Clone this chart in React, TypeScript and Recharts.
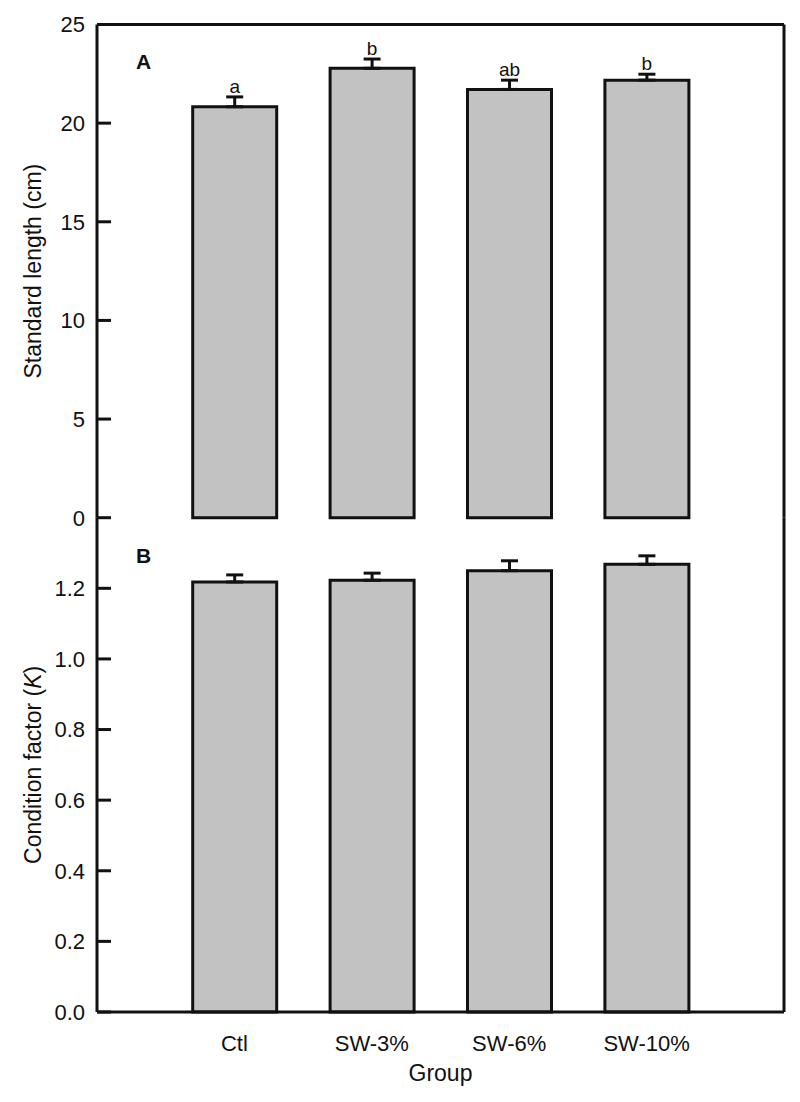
import { Bar, BarChart, CartesianGrid, ErrorBar, LabelList, XAxis, YAxis } from "recharts";

const groups = ["Ctl", "SW-3%", "SW-6%", "SW-10%"];
const lengthMean = [20.83, 22.78, 21.71, 22.18];
const lengthErr = [0.5, 0.47, 0.47, 0.3];
const lengthLetters = ["a", "b", "ab", "b"];
const kMean = [1.218, 1.223, 1.25, 1.268];
const kErr = [0.02, 0.02, 0.028, 0.024];
const lengthTicks = [0, 5, 10, 15, 20, 25];
const kTicks = [0, 0.2, 0.4, 0.6, 0.8, 1.0, 1.2];

const FONT = '"Liberation Sans", Arial, Helvetica, sans-serif';
const INK = "#111";
const PAD = { left: 68.7, right: 68.7 };

const dataA = groups.map((g, i) => ({
  group: g,
  mean: lengthMean[i],
  err: lengthErr[i],
  letter: lengthLetters[i],
}));
const dataB = groups.map((g, i) => ({ group: g, mean: kMean[i], err: kErr[i] }));

function yLabel(content: React.ReactNode) {
  return (props: any) => {
    const vb = props.viewBox;
    const cx = vb.x + 33;
    const cy = vb.y + vb.height / 2;
    return (
      <text
        x={cx}
        y={cy}
        transform={`rotate(-90, ${cx}, ${cy})`}
        textAnchor="middle"
        dominantBaseline="central"
        fontSize={23}
        fontFamily={FONT}
        fill={INK}
      >
        {content}
      </text>
    );
  };
}

const axisLine = { stroke: INK, strokeWidth: 3 };
const tickLine = { stroke: INK, strokeWidth: 3 };
const tickFont = { fontSize: 22, fontFamily: FONT, fill: INK };

// frame lines: top + right for panel A, right only for panel B
const topEdge = (p: any) => [p.offset.top];
const rightEdge = (p: any) => [p.offset.left + p.offset.width];

export default function App() {
  return (
    <div
      style={{
        position: "fixed",
        left: 0,
        top: 0,
        width: 800,
        height: 1102,
        background: "#fff",
        fontFamily: FONT,
      }}
    >
      <div style={{ position: "absolute", left: 0, top: 0 }}>
        <BarChart width={800} height={540} data={dataA} margin={{ top: 24.5, right: 16, left: 0, bottom: 22.3 }}>
          <CartesianGrid
            stroke={INK}
            strokeWidth={3}
            horizontalCoordinatesGenerator={topEdge}
            verticalCoordinatesGenerator={rightEdge}
          />
          <XAxis dataKey="group" padding={PAD} tick={false} tickLine={false} height={0} axisLine={axisLine} />
          <YAxis
            domain={[0, 25]}
            ticks={lengthTicks}
            width={97}
            tickSize={-14}
            tickMargin={26}
            tickLine={tickLine}
            axisLine={axisLine}
            interval={0}
            tick={tickFont}
            label={{ content: yLabel("Standard length (cm)") }}
          />
          <Bar
            dataKey="mean"
            stackId="s"
            fill="#c2c2c2"
            stroke={INK}
            strokeWidth={3}
            barSize={84}
            isAnimationActive={false}
          >
            <ErrorBar
              dataKey={(d: any) => [0, d.err]}
              direction="y"
              width={8.5}
              stroke={INK}
              strokeWidth={3}
              isAnimationActive={false}
            />
          </Bar>
          <Bar dataKey="err" stackId="s" fill="transparent" stroke="none" barSize={84} isAnimationActive={false}>
            <LabelList
              dataKey="letter"
              position="top"
              offset={4}
              fontSize={19}
              fontFamily={FONT}
              fill={INK}
            />
          </Bar>
        </BarChart>
      </div>

      <div style={{ position: "absolute", left: 0, top: 0 }}>
        <BarChart width={800} height={1102} data={dataB} margin={{ top: 517.7, right: 16, left: 0, bottom: 0 }}>
          <CartesianGrid
            stroke={INK}
            strokeWidth={3}
            horizontal={false}
            verticalCoordinatesGenerator={rightEdge}
          />
          <XAxis
            dataKey="group"
            padding={PAD}
            tickLine={false}
            tickSize={0}
            tickMargin={23}
            height={90}
            axisLine={axisLine}
            interval={0}
            tick={tickFont}
            label={{
              value: "Group",
              position: "insideBottom",
              offset: 21,
              fontSize: 23,
              fontFamily: FONT,
              fill: INK,
            }}
          />
          <YAxis
            domain={[0, 1.4]}
            ticks={kTicks}
            width={97}
            tickSize={-14}
            tickMargin={26}
            tickLine={tickLine}
            axisLine={axisLine}
            interval={0}
            tick={tickFont}
            tickFormatter={(v: number) => v.toFixed(1)}
            label={{
              content: yLabel(
                <>
                  Condition factor (<tspan fontStyle="italic">K</tspan>)
                </>
              ),
            }}
          />
          <Bar dataKey="mean" fill="#c2c2c2" stroke={INK} strokeWidth={3} barSize={84} isAnimationActive={false}>
            <ErrorBar
              dataKey={(d: any) => [0, d.err]}
              direction="y"
              width={8.5}
              stroke={INK}
              strokeWidth={3}
              isAnimationActive={false}
            />
          </Bar>
        </BarChart>
      </div>

      <svg
        width={800}
        height={1102}
        style={{ position: "absolute", left: 0, top: 0, pointerEvents: "none" }}
      >
        <text x={136} y={69} fontSize={21} fontWeight="bold" fontFamily={FONT} fill={INK}>
          A
        </text>
        <text x={136} y={563} fontSize={21} fontWeight="bold" fontFamily={FONT} fill={INK}>
          B
        </text>
      </svg>
    </div>
  );
}
